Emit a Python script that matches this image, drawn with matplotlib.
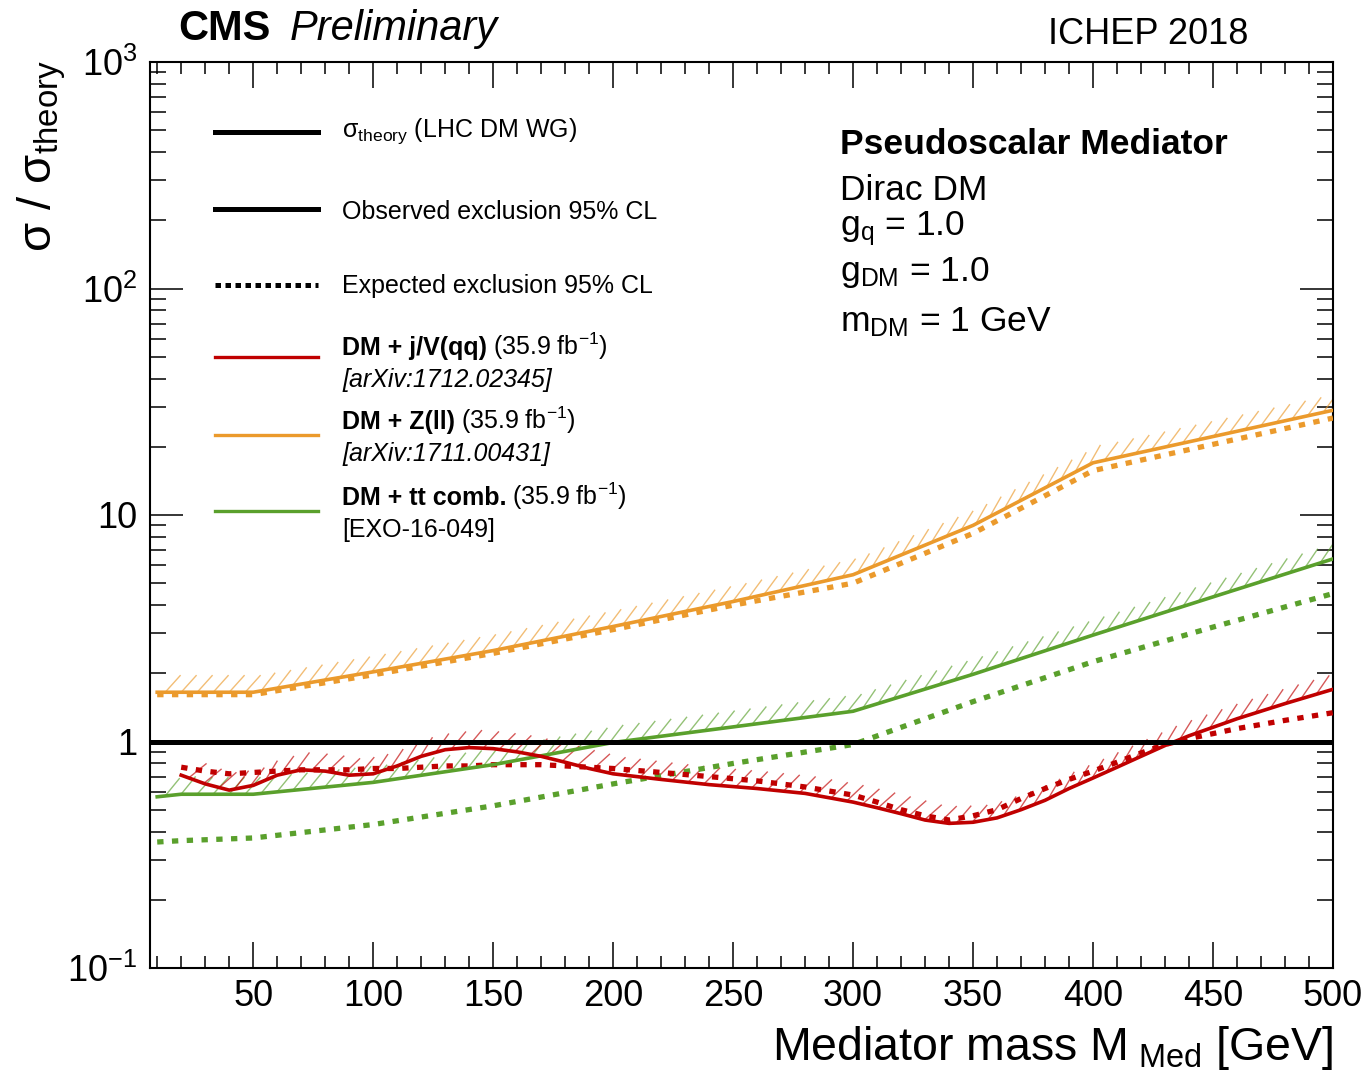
import numpy as np
import matplotlib
matplotlib.use("Agg")
import matplotlib.pyplot as plt
from matplotlib.collections import LineCollection
from matplotlib.ticker import MultipleLocator, LogLocator, NullFormatter

plt.rcParams["font.family"] = ["Liberation Sans", "DejaVu Sans"]
plt.rcParams["mathtext.fontset"] = "custom"
plt.rcParams["mathtext.rm"] = "Liberation Sans"
plt.rcParams["mathtext.it"] = "Liberation Sans:italic"
plt.rcParams["mathtext.bf"] = "Liberation Sans:bold"

# ---- data (sigma / sigma_theory) ----
# DM + j/V(qq)
jv_mass = [20, 30, 40, 50, 60, 70, 80, 90, 100, 110, 120, 130, 140, 150, 160, 170, 180, 190,
           200, 220, 240, 260, 280, 300, 310, 320, 330, 340, 350, 360, 370, 380, 390, 400,
           410, 420, 430, 440, 460, 480, 500]
jv_obs = [0.71, 0.65, 0.61, 0.64, 0.71, 0.75, 0.74, 0.71, 0.72, 0.78, 0.86, 0.92, 0.94, 0.93,
          0.90, 0.86, 0.81, 0.76, 0.72, 0.68, 0.645, 0.62, 0.59, 0.54, 0.51, 0.48, 0.45,
          0.435, 0.44, 0.46, 0.50, 0.55, 0.62, 0.69, 0.77, 0.86, 0.96, 1.06, 1.26, 1.47, 1.70]
jv_exp = [0.77, 0.74, 0.72, 0.73, 0.74, 0.75, 0.75, 0.75, 0.76, 0.76, 0.77, 0.78, 0.78, 0.79,
          0.79, 0.79, 0.78, 0.77, 0.76, 0.73, 0.70, 0.67, 0.63, 0.58, 0.54, 0.50, 0.47,
          0.45, 0.47, 0.50, 0.56, 0.62, 0.68, 0.74, 0.81, 0.89, 0.97, 1.03, 1.14, 1.24, 1.34]

# DM + Z(ll)
zll_mass = [10, 30, 50, 100, 150, 200, 250, 300, 350, 400, 500]
zll_obs = [1.65, 1.65, 1.65, 2.03, 2.52, 3.22, 4.15, 5.45, 9.0, 17.0, 29.0]
zll_exp = [1.61, 1.61, 1.61, 1.97, 2.45, 3.12, 4.0, 5.0, 8.3, 15.7, 26.8]

# DM + tt comb.
tt_mass = [10, 20, 50, 100, 150, 200, 250, 300, 350, 400, 450, 500]
tt_obs = [0.57, 0.585, 0.585, 0.66, 0.79, 0.99, 1.16, 1.36, 1.98, 2.95, 4.35, 6.4]
tt_exp = [0.36, 0.365, 0.375, 0.43, 0.52, 0.65, 0.80, 0.97, 1.50, 2.25, 3.2, 4.5]

theory_level = 1.0

RED = "#c00000"
ORANGE = "#eb9a2c"
GREEN = "#5aa02c"

W, H = 1367, 1075
fig = plt.figure(figsize=(W / 100, H / 100), dpi=100)
ax = fig.add_axes([150 / W, 107 / H, 1183 / W, 906 / H])
ax.set_xlim(7, 500)
ax.set_ylim(0.1, 1000)
ax.set_yscale("log")
renderer = fig.canvas.get_renderer()


def fx(px):
    return px / W


def fy(py):
    return 1 - py / H


def hatched(x, y, color, spacing=16, length=23):
    # ROOT-like exclusion hatching on the upper side of a curve
    pts = ax.transData.transform(np.column_stack([x, y]))
    d = np.diff(pts, axis=0)
    cum = np.concatenate([[0], np.cumsum(np.hypot(d[:, 0], d[:, 1]))])
    s = np.arange(spacing / 2, cum[-1], spacing)
    px = np.interp(s, cum, pts[:, 0])
    py = np.interp(s, cum, pts[:, 1])
    idx = np.clip(np.searchsorted(cum, s) - 1, 0, len(d) - 1)
    loc = np.arctan2(d[idx, 1], d[idx, 0])
    a = np.deg2rad(48) + 0.45 * loc
    ex = px + length * np.cos(a)
    ey = py + length * np.sin(a)
    inv = ax.transData.inverted()
    p0 = inv.transform(np.column_stack([px, py]))
    p1 = inv.transform(np.column_stack([ex, ey]))
    segs = np.stack([p0, p1], axis=1)
    ax.add_collection(LineCollection(segs, colors=color, linewidths=1.0, alpha=0.65, zorder=2))


dots = (0, (1.2, 1.6))
for m, obs, exp, c in [(zll_mass, zll_obs, zll_exp, ORANGE),
                       (tt_mass, tt_obs, tt_exp, GREEN),
                       (jv_mass, jv_obs, jv_exp, RED)]:
    hatched(m, obs, c)
    ax.plot(m, exp, color=c, lw=3.8, linestyle=dots, dash_capstyle="butt", zorder=3)
    ax.plot(m, obs, color=c, lw=2.6, zorder=4)

ax.axhline(theory_level, color="black", lw=3.6, zorder=5)

# axes styling (ROOT look)
ax.xaxis.set_major_locator(MultipleLocator(50))
ax.xaxis.set_minor_locator(MultipleLocator(10))
ax.set_yticks([0.1, 1, 10, 100, 1000],
              [r"$\mathregular{10^{-1}}$", "1", "10", r"$\mathregular{10^{2}}$", r"$\mathregular{10^{3}}$"])
ax.yaxis.set_minor_locator(LogLocator(base=10, subs=np.arange(2, 10)))
ax.yaxis.set_minor_formatter(NullFormatter())
ax.tick_params(which="both", direction="in", top=True, right=True, width=1.1, labelsize=26)
ax.tick_params(axis="x", which="major", length=19, pad=8)
ax.tick_params(axis="x", which="minor", length=8.5)
ax.tick_params(axis="y", which="major", length=24, pad=9)
ax.tick_params(axis="y", which="minor", length=11.5)
for sp in ax.spines.values():
    sp.set_linewidth(1.5)

# axis titles
fig.text(fx(1333), fy(1060), r"Mediator mass M$_{\mathregular{\ Med}}$ [GeV]", fontsize=33.5,
         ha="right", va="baseline")
fig.text(fx(52), fy(60), r"$\mathregular{σ\ /\ σ_{theory}}$", fontsize=34, rotation=90,
         rotation_mode="anchor", ha="right", va="baseline")

# header
fig.text(fx(178), fy(40), "CMS", fontsize=30, fontweight="bold", va="baseline")
fig.text(fx(290), fy(40), "Preliminary", fontsize=30, fontstyle="italic", va="baseline")
fig.text(fx(1248), fy(44), "ICHEP 2018", fontsize=26, ha="right", va="baseline")

# legend (drawn by hand, ROOT style)
leg_x0, leg_x1, txt_x = 215, 318, 342
legend_rows = [
    (132, "black", "-", 3.6, None, r"$\mathregular{σ_{theory}}$ (LHC DM WG)", 137, None),
    (209, "black", "-", 3.6, None, "Observed exclusion 95% CL", 219, None),
    (285, "black", ":", 3.6, None, "Expected exclusion 95% CL", 293, None),
    (357, RED, "-", 2.4, "DM + j/V(qq)", r"(35.9 fb$^{\mathregular{-1}}$)", 355,
     "[arXiv:1712.02345]"),
    (435, ORANGE, "-", 2.4, "DM + Z(ll)", r"(35.9 fb$^{\mathregular{-1}}$)", 429,
     "[arXiv:1711.00431]"),
    (511, GREEN, "-", 2.4, "DM + tt comb.", r"(35.9 fb$^{\mathregular{-1}}$)", 505,
     "[EXO-16-049]"),
]
for ly, c, ls, lw, bold, label, base, sub in legend_rows:
    style = dict(linestyle=(0, (1.1, 0.9)), dash_capstyle="butt") if ls == ":" else {}
    fig.add_artist(plt.Line2D([fx(leg_x0), fx(leg_x1)], [fy(ly), fy(ly)], color=c, lw=lw,
                              transform=fig.transFigure, **style))
    x_txt = txt_x
    if bold is not None:
        t = fig.text(fx(x_txt), fy(base), bold, fontsize=18, fontweight="bold", va="baseline")
        x_txt = t.get_window_extent(renderer).x1 + 6
    fig.text(fx(x_txt), fy(base), label, fontsize=18, va="baseline")
    if sub is not None:
        fig.text(fx(txt_x), fy(base + 32), sub, fontsize=18, va="baseline",
                 fontstyle="normal" if sub.startswith("[EXO") else "italic")

# model description
fig.text(fx(840), fy(154), "Pseudoscalar Mediator", fontsize=25.5, fontweight="bold", va="baseline")
info_lines = [("Dirac DM", 200),
              (r"g$_{\mathregular{q}}$ = 1.0", 235),
              (r"g$_{\mathregular{DM}}$ = 1.0", 281),
              (r"m$_{\mathregular{DM}}$ = 1 GeV", 331)]
for txt, base in info_lines:
    fig.text(fx(840), fy(base), txt, fontsize=25.5, va="baseline")

fig.savefig("out.png", dpi=100)
